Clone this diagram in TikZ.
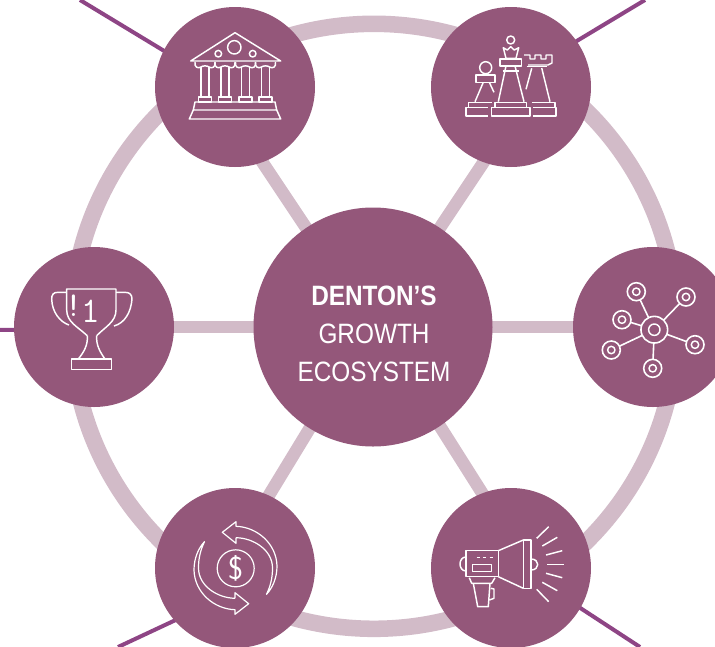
\documentclass[tikz,border=0pt]{standalone}
\usepackage{fontspec}
\setmainfont{Liberation Sans}[FakeStretch=0.87]
\usetikzlibrary{positioning, backgrounds}
\definecolor{plumdark}{RGB}{148,87,122}
\definecolor{plumlight}{RGB}{210,187,200}
\definecolor{plumlink}{RGB}{142,69,133}
\tikzset{
  hubnode/.style={circle, fill=plumdark, inner sep=0pt, outer sep=0pt, minimum size=179.25pt},
  petal/.style={circle, fill=plumdark, inner sep=0pt, outer sep=0pt, minimum size=120pt},
  ringnode/.style={circle, draw=plumlight, line width=12.4pt, inner sep=0pt, outer sep=0pt, minimum size=453.75pt},
  spoke/.style={draw=plumlight, line width=9.4pt, shorten <=-3pt, shorten >=-3pt},
  link/.style={draw=plumlink, line width=3pt, shorten <=-3pt},
  icon/.style={draw=white, line width=1.1pt, line join=round},
  bigdot/.style={circle, draw=white, line width=1.2pt, inner sep=0pt, outer sep=0pt, minimum size=20pt},
  smalldot/.style={circle, draw=white, line width=1.2pt, inner sep=0pt, outer sep=0pt, minimum size=13.5pt}
}

\begin{document}
\begin{tikzpicture}[x=0.75pt, y=-0.75pt]
  \clip (0,0) rectangle (715,647);

  \node[ringnode] (ring) at (374,326.3) {};

  \node[hubnode] (hub) at (373,327) {};
  \node[petal] (bank) at (235,87) {};
  \node[petal] (chess) at (511,87) {};
  \node[petal] (network) at (653,327) {};
  \node[petal] (trophy) at (94,327) {};
  \node[petal] (money) at (235,568) {};
  \node[petal] (horn) at (511,568) {};

  \node[text=white, align=center, font=\fontsize{21}{28.5}\selectfont] (title) at (374,334) {\textbf{DENTON’S}\\GROWTH\\ECOSYSTEM};

  % spokes and outer links
  \begin{scope}[on background layer]
    \draw[spoke] (hub.124) -- (bank.-70);
    \draw[spoke] (hub.56) -- (chess.250);
    \draw[spoke] (hub.238) -- (money.65);
    \draw[spoke] (hub.-56) -- (horn.111);
    \draw[spoke] (hub) -- (network);
    \draw[spoke] (hub) -- (trophy);
    \coordinate (bankend) at (80,0);
    \coordinate (chessend) at (645,0);
    \coordinate (trophyend) at (0,329.8);
    \coordinate (moneyend) at (118,647);
    \coordinate (hornend) at (640,647);
    \draw[link] (bank.153) -- (bankend);
    \draw[link] (chess.35) -- (chessend);
    \draw[link] (trophy.182) -- (trophyend);
    \draw[link] (money.221) -- (moneyend);
    \draw[link] (horn.-30) -- (hornend);
  \end{scope}

  % bank
  \draw[icon] (190.7,61) -- (235,32.7) -- (280.7,61) -- cycle;
  \draw[icon] (234.3,47.3) circle (6.7);
  \draw[icon] (218.3,53.7) circle (3.3);
  \draw[icon] (252.7,53.7) circle (3.3);
  \foreach \x in {205,225,245.5,265.5} {
    \draw[icon] (\x-10,62) .. controls (\x-11,67) and (\x-7,69) .. (\x-4,67) .. controls (\x-2,65.5) and (\x+2,65.5) .. (\x+4,67) .. controls (\x+7,69) and (\x+11,67) .. (\x+10,62);
    \draw[icon] (\x-4,67) -- (\x-4,97) (\x+4,67) -- (\x+4,97);
    \draw[icon] (\x-6.5,102) rectangle (\x+6.5,97);
  }
  \draw[icon] (195,102) -- (275,102) -- (276.7,110) -- (193.3,110) -- cycle;
  \draw[icon] (193.3,110) -- (189.3,119) -- (280.7,119) -- (276.7,110);

  % chess
  \draw[icon] (485.7,67.7) circle (6);
  \draw[icon] (476,75) rectangle (495,82.3);
  \draw[icon] (483.3,82.3) -- (475,101.7) (489.3,82.3) -- (494,92.3);
  \draw[icon] (491.7,102.3) -- (468.3,102.3) -- (468.3,107.3) -- (488,107.3) (468.3,107.3) -- (466,107.3) -- (466,116) -- (488,116);
  \draw[icon] (510.7,40) circle (4);
  \draw[icon] (503.3,47.7) -- (507.3,50) -- (510.7,46.7) -- (514.3,50) -- (518.7,47.7) -- (516,58.3) -- (506,58.3) -- cycle;
  \draw[icon] (500,59) rectangle (521.7,66);
  \draw[icon] (502.7,71) -- (519.3,71);
  \draw[icon] (506,66) -- (498.3,101.7) (515,66) -- (524,101.7);
  \draw[icon] (495,102.3) rectangle (526.7,107.3);
  \draw[icon] (491.7,107.3) rectangle (530,116);
  \draw[icon] (524,55) -- (530,55) -- (530,59) -- (535,59) -- (535,55) -- (541,55) -- (541,59) -- (546,59) -- (546,55) -- (552,55) -- (552,63) -- (548,65) -- (528,65);
  \draw[icon] (526.7,66.7) -- (546.7,66.7);
  \draw[icon] (531.7,68.3) -- (526,89.3) (541.7,68) -- (550,101.7);
  \draw[icon] (531.7,102.3) -- (555,102.3) -- (555,107.3) -- (533,107.3);
  \draw[icon] (555,107.3) -- (556,107.3) -- (556,116) -- (533,116);

  % network
  \node[bigdot] (nethub) at (654.3,329.7) {};
  \draw[icon] (nethub.center) circle (5.7);
  \foreach \i/\p in {a/{636.3,291.7}, b/{686,297}, c/{622,319.7}, d/{695,344.7}, e/{611.3,350}, f/{652.7,368.3}} {
    \node[smalldot] (sat\i) at (\p) {};
    \draw[icon] (sat\i.center) circle (3.7);
    \draw[icon, line width=1.2pt] (sat\i) -- (nethub);
  }

  % trophy
  \draw[icon] (87.3,335.7) .. controls (78,327) and (66.7,322) .. (66.7,310) -- (66.7,289) -- (116,289) -- (116,310) .. controls (116,322) and (105,327) .. (96.7,335.7);
  \draw[icon] (87.3,335.7) .. controls (88,345) and (84,352) .. (78.3,359);
  \draw[icon] (96.7,335.7) .. controls (96,345) and (100,352) .. (105,359);
  \draw[icon] (71.7,359) rectangle (111.7,369.3);
  \draw[icon] (66.7,292.3) -- (58,292.3) .. controls (53,292.3) and (51.7,295) .. (51.7,299) .. controls (52,312) and (60,322) .. (69,325);
  \draw[icon] (116,292.3) -- (125,292.3) .. controls (130,292.3) and (132,295) .. (132,299) .. controls (131,312) and (125,323) .. (114,326);
  \node[text=white, font=\ttfamily\fontsize{26}{26}\selectfont, inner sep=0pt] (mark) at (73.5,305.5) {!};
  \node[text=white, font=\ttfamily\fontsize{27}{27}\selectfont, inner sep=0pt] (rank) at (90.5,311) {1};

  % money
  \node[circle, draw=white, line width=0.9pt, inner sep=0pt, minimum size=27.75pt, text=white, font=\sffamily\fontsize{24}{24}\selectfont] (coin) at (235.7,568.3) {\$};
  \foreach \a in {0,180} {
    \begin{scope}[shift={(235.5,568)}, rotate=\a]
      \draw[icon, line width=0.9pt] (0.5,-30.3) -- (0.5,-24.7) -- (-13.2,-35.7) -- (0.5,-46.3) -- (0.5,-41.7)
        .. controls (22,-41) and (41,-24) .. (41.5,-2) .. controls (41.5,10) and (37,20) .. (31,26.3)
        .. controls (35,18) and (37,10) .. (37,0) .. controls (37,-18) and (18,-30) .. (0.5,-30.3);
    \end{scope}
  }

  % megaphone
  \draw[icon] (466,550.7) rectangle (498.3,576.7);
  \draw[icon] (466,557) .. controls (458,557) and (458,571) .. (466,571);
  \draw[icon] (498.3,550.7) -- (523.3,540) (498.3,576.7) -- (523.3,588.3);
  \draw[icon] (523.3,540) rectangle (531,588.3);
  \draw[icon] (531,559) .. controls (540,559) and (540,570) .. (531,570);
  \foreach \x in {476.7,483,489.5}
    \draw[icon] (\x,557.3) -- (\x+3.2,557.3);
  \draw[icon] (472.7,564.3) rectangle (491.7,571.7);
  \draw[icon] (469.3,577.7) -- (471.7,583.3) -- (491.7,583.3) -- (495,577.7);
  \draw[icon] (473.3,583.3) -- (477.7,606.7) -- (488.3,606.7) -- (490,583.3);
  \draw[icon] (490.7,588.3) -- (494,589) -- (494,598.3) -- (489.3,600);
  \draw[icon] (536.7,538.3) -- (548.7,526.7);
  \draw[icon] (542.3,546) -- (557.3,537.3);
  \draw[icon] (546,555) -- (562.3,550.7);
  \draw[icon] (547.3,564.3) -- (564.3,564.3);
  \draw[icon] (546,573.3) -- (562.3,577.7);
  \draw[icon] (542.3,582.3) -- (557.3,590.7);
  \draw[icon] (536.7,589.3) -- (548.7,601.7);
\end{tikzpicture}
\end{document}
